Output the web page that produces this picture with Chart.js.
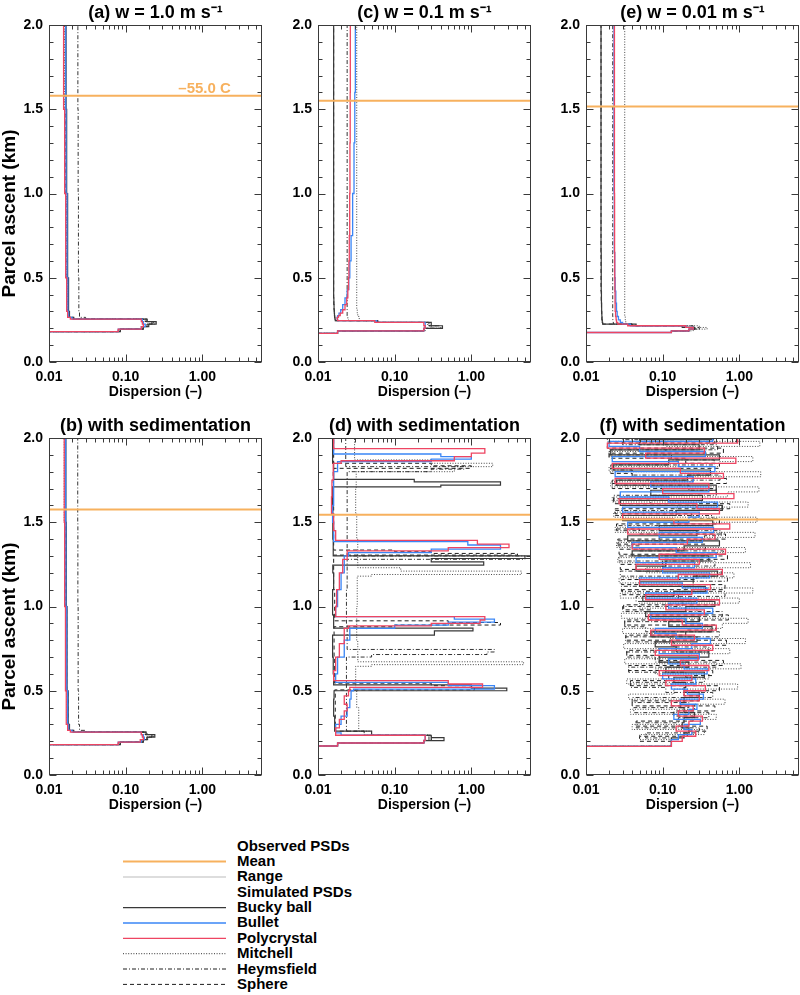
<!DOCTYPE html>
<html>
<head>
<meta charset="utf-8">
<script src="https://cdn.jsdelivr.net/npm/chart.js@4.4.1/dist/chart.umd.min.js"></script>
<style>
html,body{margin:0;padding:0;background:#fff;}
#wrap{position:relative;width:800px;height:995px;overflow:hidden;font-family:'Liberation Sans',Arial,Helvetica,sans-serif;}
#wrap canvas{position:absolute;}
.lg{position:absolute;left:237px;font-weight:bold;font-size:15px;line-height:18px;color:#000;white-space:nowrap;}
#lgsvg{position:absolute;left:0;top:830px;}
</style>
</head>
<body>
<div id="wrap"></div>
<script>
// ---------------- tick labels / titles ----------------
const panelTitles = {
  a: '(a) w = 1.0 m s\u207B\u00B9',
  c: '(c) w = 0.1 m s\u207B\u00B9',
  e: '(e) w = 0.01 m s\u207B\u00B9',
  b: '(b) with sedimentation',
  d: '(d) with sedimentation',
  f: '(f) with sedimentation'
};
const yTitleText = 'Parcel ascent (km)';
const xTitleText = 'Dispersion (\u2013)';
const xMajorValues = [0.01, 0.1, 1];
const xTickLabels = ['0.01', '0.10', '1.00'];
const xMinorValues = [0.02,0.03,0.04,0.05,0.06,0.07,0.08,0.09,0.2,0.3,0.4,0.5,0.6,0.7,0.8,0.9,2,3,4,5];
const yMajorValues = [0, 0.5, 1.0, 1.5, 2.0];
const yMinorValues = [0.1,0.2,0.3,0.4,0.6,0.7,0.8,0.9,1.1,1.2,1.3,1.4,1.6,1.7,1.8,1.9];
const xRange = [0.01, 6];
const yRange = [0, 2];

// observed mean temperature level (km) per panel: a, b, c, d, e, f
const meanHeights = [1.58, 1.575, 1.55, 1.545, 1.517, 1.517];
const meanLabel = '\u201355.0 C';
const meanLabelX = 1.07;

const legendLabels = ['Observed PSDs','Mean','Range','Simulated PSDs','Bucky ball','Bullet','Polycrystal','Mitchell','Heymsfield','Sphere'];

// ---------------- panel (a) ----------------
const heightA   = [0, 0.18, 0.195, 0.21, 0.225, 0.24, 0.255, 0.265, 0.30, 0.50, 1.0, 1.5, 2.0];
const buckyA    = [0.008, 0.085, 0.17, 0.20, 0.25, 0.19, 0.021, 0.0185, 0.018, 0.0175, 0.017, 0.0167, 0.0166];
const bulletA   = [0.008, 0.08, 0.16, 0.18, 0.17, 0.165, 0.02, 0.018, 0.0176, 0.0172, 0.0167, 0.0165, 0.0164];
const polyA     = [0.008, 0.08, 0.16, 0.17, 0.165, 0.16, 0.019, 0.0175, 0.017, 0.0165, 0.016, 0.0155, 0.0153];
const mitchellA = [0.008, 0.085, 0.17, 0.19, 0.23, 0.18, 0.02, 0.018, 0.0175, 0.0168, 0.0162, 0.016, 0.0158];
const heymsA    = [0.008, 0.085, 0.17, 0.20, 0.24, 0.19, 0.03, 0.025, 0.0245, 0.0242, 0.024, 0.0238, 0.0238];
const sphereA   = [0.008, 0.08, 0.17, 0.19, 0.22, 0.17, 0.021, 0.0185, 0.0178, 0.0172, 0.0166, 0.0163, 0.0162];

// ---------------- panel (b) ----------------
const heightB   = [0, 0.18, 0.195, 0.21, 0.225, 0.24, 0.255, 0.265, 0.30, 0.50, 1.0, 1.5, 2.0];
const buckyB    = [0.008, 0.085, 0.17, 0.19, 0.24, 0.185, 0.021, 0.0185, 0.0178, 0.0172, 0.0168, 0.0166, 0.0165];
const bulletB   = [0.008, 0.08, 0.16, 0.175, 0.17, 0.16, 0.02, 0.018, 0.0175, 0.017, 0.0166, 0.0165, 0.0164];
const polyB     = [0.008, 0.08, 0.155, 0.17, 0.165, 0.16, 0.019, 0.0175, 0.0168, 0.0164, 0.016, 0.0158, 0.0157];
const mitchellB = [0.008, 0.085, 0.17, 0.19, 0.22, 0.18, 0.02, 0.018, 0.0172, 0.0166, 0.0161, 0.0158, 0.0156];
const heymsB    = [0.008, 0.085, 0.17, 0.20, 0.23, 0.19, 0.03, 0.025, 0.0243, 0.024, 0.0238, 0.0237, 0.0237];
const sphereB   = [0.008, 0.08, 0.17, 0.19, 0.22, 0.17, 0.021, 0.0185, 0.0176, 0.017, 0.0166, 0.0163, 0.0162];

// ---------------- panel (c) ----------------
const heightC   = [0, 0.17, 0.185, 0.20, 0.215, 0.235, 0.245, 0.255, 0.265, 0.275, 0.29, 0.31, 0.34, 0.38, 0.43, 0.50, 0.60, 0.75, 1.0, 1.3, 1.6, 2.0];
const buckyC    = [0.008, 0.018, 0.24, 0.42, 0.30, 0.06, 0.0168, 0.0166, 0.0165, 0.0164, 0.0163, 0.0162, 0.0161, 0.016, 0.016, 0.016, 0.016, 0.016, 0.016, 0.016, 0.016, 0.016];
const bulletC   = [0.008, 0.018, 0.24, 0.25, 0.25, 0.058, 0.018, 0.0178, 0.018, 0.0188, 0.0198, 0.021, 0.0225, 0.024, 0.0252, 0.026, 0.027, 0.0283, 0.0295, 0.0302, 0.0307, 0.031];
const polyC     = [0.008, 0.018, 0.24, 0.25, 0.24, 0.055, 0.018, 0.0178, 0.0185, 0.0195, 0.021, 0.0225, 0.0237, 0.0245, 0.025, 0.0253, 0.0256, 0.0259, 0.0261, 0.0263, 0.0264, 0.0265];
const mitchellC = [0.008, 0.018, 0.25, 0.30, 0.27, 0.06, 0.034, 0.0345, 0.034, 0.033, 0.0325, 0.032, 0.032, 0.032, 0.032, 0.032, 0.032, 0.032, 0.032, 0.032, 0.032, 0.032];
const heymsC    = [0.008, 0.018, 0.24, 0.35, 0.28, 0.06, 0.025, 0.0245, 0.024, 0.024, 0.024, 0.024, 0.024, 0.024, 0.024, 0.024, 0.024, 0.024, 0.024, 0.024, 0.024, 0.024];
const sphereC   = [0.008, 0.018, 0.24, 0.40, 0.28, 0.06, 0.0168, 0.0166, 0.0165, 0.0164, 0.0163, 0.0162, 0.0161, 0.016, 0.016, 0.016, 0.016, 0.016, 0.016, 0.016, 0.016, 0.016];

// ---------------- panel (e) ----------------
const heightE   = [0, 0.175, 0.185, 0.195, 0.205, 0.215, 0.225, 0.235, 0.25, 0.27, 0.30, 0.35, 0.42, 0.50, 0.65, 1.0, 1.5, 2.0];
const buckyE    = [0.008, 0.13, 0.22, 0.26, 0.18, 0.045, 0.0165, 0.0163, 0.0162, 0.0161, 0.016, 0.0159, 0.0158, 0.0158, 0.0157, 0.0157, 0.0157, 0.0157];
const bulletE   = [0.008, 0.13, 0.22, 0.25, 0.20, 0.038, 0.03, 0.028, 0.0265, 0.0255, 0.025, 0.0245, 0.024, 0.0237, 0.0234, 0.0232, 0.0232, 0.0232];
const polyE     = [0.008, 0.13, 0.22, 0.25, 0.20, 0.035, 0.026, 0.025, 0.0247, 0.0243, 0.024, 0.0239, 0.0238, 0.0237, 0.0236, 0.0235, 0.0235, 0.0235];
const mitchellE = [0.008, 0.13, 0.25, 0.38, 0.30, 0.04, 0.033, 0.033, 0.0325, 0.032, 0.032, 0.032, 0.032, 0.032, 0.032, 0.032, 0.032, 0.032];
const heymsE    = [0.008, 0.13, 0.23, 0.30, 0.25, 0.04, 0.0228, 0.0225, 0.0224, 0.0223, 0.0223, 0.0223, 0.0223, 0.0223, 0.0223, 0.0223, 0.0223, 0.0223];
const sphereE   = [0.008, 0.13, 0.22, 0.27, 0.20, 0.04, 0.0165, 0.0163, 0.0161, 0.016, 0.0159, 0.0158, 0.0157, 0.0157, 0.0157, 0.0157, 0.0157, 0.0157];

// ---------------- panel (d) ----------------
const buckyD_h    = [0, 0.172, 0.19, 0.204, 0.222, 0.236, 0.26, 0.35, 0.45, 0.50, 0.515, 0.535, 0.6, 0.7, 0.83, 0.855, 0.872, 0.95, 1.1, 1.2, 1.245, 1.265, 1.285, 1.30, 1.4, 1.6, 1.71, 1.72, 1.74, 1.755, 1.85, 2.0];
const buckyD_x    = [0.008, 0.018, 0.24, 0.44, 0.3, 0.05, 0.0165, 0.016, 0.0162, 2.9, 1.0, 0.016, 0.0158, 0.0155, 0.33, 1.05, 0.016, 0.0155, 0.016, 0.0156, 1.45, 0.3, 6.5, 0.0158, 0.0156, 0.0155, 0.4, 2.4, 0.18, 0.016, 0.0155, 0.0152];
const bulletD_h   = [0, 0.172, 0.19, 0.205, 0.236, 0.25, 0.3, 0.35, 0.4, 0.45, 0.5, 0.51, 0.53, 0.55, 0.6, 0.7, 0.8, 0.87, 0.89, 0.907, 0.925, 0.94, 1.0, 1.1, 1.2, 1.3, 1.32, 1.34, 1.365, 1.385, 1.5, 1.6, 1.7, 1.8, 1.86, 1.875, 1.89, 1.905, 2.0];
const bulletD_x   = [0.008, 0.018, 0.24, 0.25, 0.02, 0.017, 0.02, 0.024, 0.026, 0.027, 0.029, 2.0, 0.5, 0.017, 0.018, 0.022, 0.026, 0.1, 0.5, 2.0, 0.6, 0.017, 0.018, 0.02, 0.022, 0.025, 0.3, 2.4, 0.9, 0.016, 0.0155, 0.016, 0.016, 0.018, 0.3, 1.0, 0.4, 0.016, 0.0158];
const polyD_h     = [0, 0.172, 0.19, 0.205, 0.236, 0.28, 0.33, 0.38, 0.42, 0.47, 0.5, 0.52, 0.54, 0.56, 0.62, 0.7, 0.78, 0.87, 0.885, 0.9, 0.92, 0.94, 1.0, 1.1, 1.2, 1.28, 1.33, 1.35, 1.37, 1.393, 1.45, 1.55, 1.65, 1.75, 1.85, 1.865, 1.89, 1.91, 1.937, 2.0];
const polyD_x     = [0.008, 0.018, 0.24, 0.25, 0.017, 0.019, 0.022, 0.024, 0.022, 0.025, 0.026, 1.4, 0.5, 0.016, 0.017, 0.019, 0.022, 0.025, 0.3, 1.3, 1.5, 0.017, 0.0175, 0.019, 0.021, 0.024, 0.5, 3.1, 1.2, 0.017, 0.016, 0.015, 0.0152, 0.0158, 0.02, 0.6, 1.0, 1.5, 0.016, 0.0158];
const mitchellD_h = [0, 0.172, 0.19, 0.205, 0.236, 0.26, 0.4, 0.5, 0.645, 0.655, 0.672, 0.8, 1.0, 1.18, 1.19, 1.21, 1.23, 1.4, 1.55, 1.7, 1.8, 1.83, 1.85, 1.87, 2.0];
const mitchellD_x = [0.008, 0.018, 0.24, 0.3, 0.05, 0.034, 0.032, 0.031, 0.05, 4.8, 0.033, 0.032, 0.0325, 0.05, 4.5, 0.12, 0.033, 0.032, 0.031, 0.0315, 0.6, 1.9, 0.3, 0.03, 0.03];
const heymsD_h    = [0, 0.172, 0.19, 0.205, 0.236, 0.26, 0.5, 0.70, 0.715, 0.73, 0.745, 0.9, 1.1, 1.28, 1.30, 1.5, 1.8, 1.815, 1.83, 2.0];
const heymsD_x    = [0.008, 0.018, 0.24, 0.28, 0.04, 0.0235, 0.0235, 0.05, 1.6, 2.0, 0.024, 0.0235, 0.024, 5.0, 0.024, 0.024, 0.3, 0.8, 0.023, 0.023];
const sphereD_h   = [0, 0.172, 0.19, 0.205, 0.236, 0.26, 0.5, 0.505, 0.53, 0.545, 0.7, 0.88, 0.89, 0.905, 0.915, 1.1, 1.305, 1.315, 1.325, 1.335, 1.6, 1.8, 1.82, 1.835, 1.85, 2.0];
const sphereD_x   = [0.008, 0.018, 0.24, 0.3, 0.04, 0.0168, 0.0165, 1.1, 0.3, 0.0165, 0.0162, 0.1, 2.4, 0.5, 0.0165, 0.016, 4.0, 0.3, 0.1, 0.016, 0.0158, 0.016, 1.0, 0.3, 0.016, 0.0155];

// ---------------- panel (f) : three interleaved height grids ----------------
const heightF1 = [0, 0.17, 0.20,0.23,0.26,0.29,0.32,0.35,0.38,0.41,0.44,0.47,0.50,0.53,0.56,0.59,0.62,0.65,0.68,0.71,0.74,0.77,0.80,0.83,0.86,0.89,0.92,0.95,0.98,1.01,1.04,1.07,1.10,1.13,1.16,1.19,1.22,1.25,1.28,1.31,1.34,1.37,1.40,1.43,1.46,1.49,1.52,1.55,1.58,1.61,1.64,1.67,1.70,1.73,1.76,1.79,1.82,1.85,1.88,1.91,1.94,1.97,2.00];
const heightF2 = [0, 0.17, 0.21,0.24,0.27,0.30,0.33,0.36,0.39,0.42,0.45,0.48,0.51,0.54,0.57,0.60,0.63,0.66,0.69,0.72,0.75,0.78,0.81,0.84,0.87,0.90,0.93,0.96,0.99,1.02,1.05,1.08,1.11,1.14,1.17,1.20,1.23,1.26,1.29,1.32,1.35,1.38,1.41,1.44,1.47,1.50,1.53,1.56,1.59,1.62,1.65,1.68,1.71,1.74,1.77,1.80,1.83,1.86,1.89,1.92,1.95,1.98,2.01];
const heightF3 = [0, 0.17, 0.22,0.25,0.28,0.31,0.34,0.37,0.40,0.43,0.46,0.49,0.52,0.55,0.58,0.61,0.64,0.67,0.70,0.73,0.76,0.79,0.82,0.85,0.88,0.91,0.94,0.97,1.00,1.03,1.06,1.09,1.12,1.15,1.18,1.21,1.24,1.27,1.30,1.33,1.36,1.39,1.42,1.45,1.48,1.51,1.54,1.57,1.60,1.63,1.66,1.69,1.72,1.75,1.78,1.81,1.84,1.87,1.90,1.93,1.96,1.99,2.02];
const bulletF   = [0.008, 0.13,
  0.16,0.24,0.19,0.31,0.14,0.22,0.28,0.17,0.34,0.21,
  0.13,0.27,0.10,0.38,0.19,0.12,0.30,0.09,0.24,0.42,
  0.15,0.08,0.33,0.20,0.07,0.45,0.12,0.28,0.06,0.38,
  0.18,0.05,0.41,0.10,0.26,0.045,0.50,0.15,0.04,0.33,
  0.09,0.46,0.035,0.22,0.30,0.03,0.52,0.12,0.028,0.40,
  0.07,0.25,0.024,0.48,0.16,0.022,0.36,0.05,0.02,0.45,
  0.10];
const polyF     = [0.008, 0.13,
  0.18,0.27,0.15,0.22,0.33,0.16,0.25,0.13,0.30,0.19,
  0.36,0.11,0.24,0.09,0.40,0.17,0.29,0.08,0.45,0.13,
  0.26,0.07,0.50,0.18,0.065,0.35,0.11,0.55,0.06,0.24,
  0.42,0.05,0.16,0.60,0.045,0.30,0.09,0.66,0.04,0.21,
  0.48,0.035,0.75,0.14,0.03,0.55,0.28,0.027,0.85,0.10,
  0.40,0.024,0.62,0.17,0.022,0.90,0.06,0.35,0.019,0.95,
  0.20];
const buckyF    = [0.008, 0.13,
  0.19,0.22,0.18,0.19,0.26,0.19,0.17,0.19,0.30,0.19,
  0.20,0.14,0.35,0.11,0.22,0.09,0.40,0.15,0.08,0.28,
  0.07,0.44,0.12,0.30,0.06,0.20,0.48,0.055,0.14,0.36,
  0.05,0.25,0.52,0.045,0.11,0.40,0.04,0.19,0.55,0.035,
  0.28,0.09,0.45,0.03,0.15,0.60,0.028,0.33,0.07,0.50,
  0.025,0.21,0.42,0.023,0.12,0.55,0.021,0.30,0.05,0.46,
  0.019];
const mitchellF = [0.008, 0.13,
  0.05,0.35,0.04,0.18,0.50,0.038,0.26,0.65,0.036,0.14,
  0.95,0.034,0.40,0.08,1.05,0.032,0.22,0.75,0.031,1.20,
  0.12,0.03,0.60,1.30,0.029,0.28,0.05,1.00,0.028,1.50,
  0.18,0.027,0.85,0.06,1.40,0.026,0.35,1.20,0.025,0.09,
  1.60,0.024,0.45,1.70,0.023,0.15,1.30,0.022,0.70,1.80,
  0.021,0.25,1.90,0.02,0.55,1.50,0.02,0.11,1.85,0.019,
  0.90];
const heymsF    = [0.008, 0.13,
  0.06,0.30,0.045,0.16,0.40,0.042,0.22,0.04,0.45,0.11,
  0.038,0.35,0.20,0.036,0.50,0.08,0.034,0.40,0.14,0.033,
  0.55,0.06,0.032,0.30,0.60,0.03,0.18,0.045,0.65,0.029,
  0.25,0.70,0.028,0.10,0.48,0.027,0.62,0.05,0.026,0.35,
  0.58,0.025,0.16,0.45,0.024,0.60,0.07,0.023,0.50,0.22,
  0.022,0.56,0.04,0.021,0.47,0.13,0.02,0.52,0.03,0.44,
  0.019];
const sphereF   = [0.008, 0.13,
  0.05,0.21,0.38,0.045,0.25,0.14,0.48,0.04,0.30,0.19,
  0.55,0.038,0.12,0.45,0.036,0.62,0.09,0.034,0.40,0.68,
  0.033,0.20,0.50,0.032,0.72,0.07,0.031,0.55,0.16,0.03,
  0.65,0.029,0.28,0.58,0.028,0.10,0.70,0.027,0.36,0.026,
  0.66,0.05,0.025,0.55,0.24,0.024,0.75,0.023,0.12,0.50,
  0.022,0.68,0.04,0.021,0.55,0.20,0.02,0.62,0.019,0.48,
  0.018];

// ---------------- styles ----------------
const FONT = "'Liberation Sans', Arial, Helvetica, sans-serif";
const STYLE = {
  mean:     {color:'#f7b15e', width:2,   dash:[]},
  range:    {color:'#d2d2d2', width:1.5, dash:[]},
  bucky:    {color:'#383838', width:1.2, dash:[]},
  bullet:   {color:'#3a86f6', width:1.3, dash:[]},
  poly:     {color:'#ee4562', width:1.3, dash:[]},
  mitchell: {color:'#333333', width:0.9, dash:[1,1.6]},
  heyms:    {color:'#1e1e1e', width:0.9, dash:[4,2,1,2]},
  sphere:   {color:'#1e1e1e', width:1,   dash:[4,3]}
};

const panels = {
  a: {mean: meanHeights[0], yTitle: true, label: true, series: [
    ['poly', heightA, polyA], ['bullet', heightA, bulletA], ['bucky', heightA, buckyA],
    ['sphere', heightA, sphereA], ['heyms', heightA, heymsA], ['mitchell', heightA, mitchellA]]},
  b: {mean: meanHeights[1], yTitle: true, label: false, series: [
    ['poly', heightB, polyB], ['bullet', heightB, bulletB], ['bucky', heightB, buckyB],
    ['sphere', heightB, sphereB], ['heyms', heightB, heymsB], ['mitchell', heightB, mitchellB]]},
  c: {mean: meanHeights[2], yTitle: false, label: false, series: [
    ['poly', heightC, polyC], ['bullet', heightC, bulletC], ['bucky', heightC, buckyC],
    ['sphere', heightC, sphereC], ['heyms', heightC, heymsC], ['mitchell', heightC, mitchellC]]},
  d: {mean: meanHeights[3], yTitle: false, label: false, series: [
    ['poly', polyD_h, polyD_x], ['bullet', bulletD_h, bulletD_x], ['bucky', buckyD_h, buckyD_x],
    ['sphere', sphereD_h, sphereD_x], ['heyms', heymsD_h, heymsD_x], ['mitchell', mitchellD_h, mitchellD_x]]},
  e: {mean: meanHeights[4], yTitle: false, label: false, series: [
    ['poly', heightE, polyE], ['bullet', heightE, bulletE], ['bucky', heightE, buckyE],
    ['sphere', heightE, sphereE], ['heyms', heightE, heymsE], ['mitchell', heightE, mitchellE]]},
  f: {mean: meanHeights[5], yTitle: false, label: false, series: [
    ['poly', heightF1, polyF], ['bullet', heightF2, bulletF], ['bucky', heightF3, buckyF],
    ['sphere', heightF1, sphereF], ['heyms', heightF3, heymsF], ['mitchell', heightF2, mitchellF]]}
};

// canvas placement (px)
const placement = [
  ['a', 0, 0], ['c', 269, 0], ['e', 537, 0],
  ['b', 0, 413], ['d', 269, 413], ['f', 537, 413]
];
const CW = 263, CH = 403;

// ---------------- plugins ----------------
const frameTicks = {
  id: 'frameTicks',
  afterDatasetsDraw(chart) {
    const {ctx, chartArea: a, scales: {x, y}} = chart;
    ctx.save();
    ctx.strokeStyle = '#3a3a3a';
    ctx.lineWidth = 1;
    ctx.beginPath();
    const L = Math.round(a.left) + 0.5, R = Math.round(a.right) - 0.5;
    const T = Math.round(a.top) + 0.5, B = Math.round(a.bottom) - 0.5;
    const yTick = (v, len) => {
      const p = Math.round(y.getPixelForValue(v)) + 0.5;
      ctx.moveTo(L, p); ctx.lineTo(L + len, p);
      ctx.moveTo(R, p); ctx.lineTo(R - len, p);
    };
    const xTick = (v, len) => {
      const p = Math.round(x.getPixelForValue(v)) + 0.5;
      ctx.moveTo(p, B); ctx.lineTo(p, B - len);
      ctx.moveTo(p, T); ctx.lineTo(p, T + len);
    };
    yMajorValues.forEach(v => yTick(v, 7));
    yMinorValues.forEach(v => yTick(v, 4));
    xMajorValues.forEach(v => xTick(v, 7));
    xMinorValues.forEach(v => xTick(v, 4));
    ctx.stroke();
    ctx.strokeRect(L, T, R - L, B - T);
    ctx.restore();
  }
};
const tempLabel = {
  id: 'tempLabel',
  afterDatasetsDraw(chart, args, opts) {
    if (!opts || !opts.show) return;
    const {ctx, scales: {x, y}} = chart;
    ctx.save();
    ctx.font = 'bold 15px ' + FONT;
    ctx.fillStyle = STYLE.mean.color;
    ctx.textAlign = 'center';
    ctx.textBaseline = 'alphabetic';
    ctx.fillText(opts.text, x.getPixelForValue(opts.x), y.getPixelForValue(opts.y) - 2.5);
    ctx.restore();
  }
};
// y-axis title, drawn rotated beside the left axis (a little below the axis centre, as in the original)
const yTitle = {
  id: 'yTitle',
  afterDraw(chart, args, opts) {
    if (!opts || !opts.show) return;
    const {ctx, chartArea: a} = chart;
    ctx.save();
    ctx.font = 'bold 19px ' + FONT;
    ctx.fillStyle = '#000';
    ctx.textAlign = 'center';
    ctx.textBaseline = 'middle';
    ctx.translate(10, (a.top + a.bottom) / 2 + 20);
    ctx.rotate(-Math.PI / 2);
    ctx.fillText(opts.text, 0, 0);
    ctx.restore();
  }
};

// ---------------- build charts ----------------
const wrap = document.getElementById('wrap');
placement.forEach(([key, left, top]) => {
  const p = panels[key];
  const cv = document.createElement('canvas');
  cv.width = CW; cv.height = CH;
  cv.style.left = left + 'px'; cv.style.top = top + 'px';
  cv.style.width = CW + 'px'; cv.style.height = CH + 'px';
  wrap.appendChild(cv);

  const datasets = [{
    data: [{x: xRange[0], y: p.mean}, {x: xRange[1], y: p.mean}],
    borderColor: STYLE.mean.color, borderWidth: STYLE.mean.width,
    showLine: true, pointRadius: 0, stepped: false
  }];
  p.series.forEach(([name, hs, xs]) => {
    const st = STYLE[name];
    datasets.push({
      label: name,
      data: hs.map((h, i) => ({x: xs[i], y: h})),
      borderColor: st.color, borderWidth: st.width, borderDash: st.dash,
      showLine: true, pointRadius: 0, stepped: 'after', fill: false
    });
  });

  new Chart(cv, {
    type: 'scatter',
    data: {datasets},
    options: {
      responsive: false,
      animation: false,
      events: [],
      layout: {padding: {left: 0, right: 1, top: 0, bottom: 0}},
      plugins: {
        legend: {display: false},
        tooltip: {enabled: false},
        title: {
          display: true, text: panelTitles[key], fullSize: false, color: '#000',
          font: {family: FONT, size: 18, weight: 'bold'},
          padding: {top: 2, bottom: 1.4}
        },
        tempLabel: {show: p.label, text: meanLabel, x: meanLabelX, y: p.mean},
        yTitle: {show: p.yTitle, text: yTitleText}
      },
      scales: {
        x: {
          type: 'logarithmic', position: 'bottom', min: xRange[0], max: xRange[1],
          afterBuildTicks: s => { s.ticks = xMajorValues.map(v => ({value: v})); },
          afterFit: s => { s.height = 41; },
          ticks: {
            callback: (v, i) => xTickLabels[i],
            color: '#000', font: {family: FONT, size: 14, weight: 'bold'},
            padding: 6.3, maxRotation: 0, autoSkip: false
          },
          grid: {display: false, drawTicks: false},
          border: {display: false},
          title: {
            display: true, text: xTitleText, color: '#000',
            font: {family: FONT, size: 14, weight: 'bold'},
            padding: {top: 0, bottom: 2}
          }
        },
        y: {
          type: 'linear', min: yRange[0], max: yRange[1],
          afterBuildTicks: s => { s.ticks = yMajorValues.map(v => ({value: v})); },
          afterFit: s => { s.width = 49; },
          ticks: {
            callback: v => Number(v).toFixed(1),
            color: '#000', font: {family: FONT, size: 14, weight: 'bold'},
            padding: 6
          },
          grid: {display: false, drawTicks: false},
          border: {display: false},
          title: {display: false}
        }
      }
    },
    plugins: [frameTicks, tempLabel, yTitle]
  });
});

// ---------------- legend (HTML) ----------------
const legendStyles = [null, 'mean', 'range', null, 'bucky', 'bullet', 'poly', 'mitchell', 'heyms', 'sphere'];
const rowCenter0 = 845.7, rowStep = 15.35;
const svgNS = 'http://www.w3.org/2000/svg';
const svg = document.createElementNS(svgNS, 'svg');
svg.setAttribute('id', 'lgsvg');
svg.setAttribute('width', '300');
svg.setAttribute('height', '165');
wrap.appendChild(svg);
legendLabels.forEach((txt, i) => {
  const cy = rowCenter0 + i * rowStep;
  const d = document.createElement('div');
  d.className = 'lg';
  d.style.top = (cy - 9) + 'px';
  d.textContent = txt;
  wrap.appendChild(d);
  const sname = legendStyles[i];
  if (sname) {
    const st = STYLE[sname];
    const ln = document.createElementNS(svgNS, 'line');
    const yy = (cy + 0.5 - 830).toFixed(1);
    ln.setAttribute('x1', '123'); ln.setAttribute('x2', '226');
    ln.setAttribute('y1', yy); ln.setAttribute('y2', yy);
    ln.setAttribute('stroke', st.color);
    ln.setAttribute('stroke-width', Math.max(1, st.width));
    if (st.dash.length) ln.setAttribute('stroke-dasharray', st.dash.join(' '));
    svg.appendChild(ln);
  }
});
</script>
</body>
</html>
